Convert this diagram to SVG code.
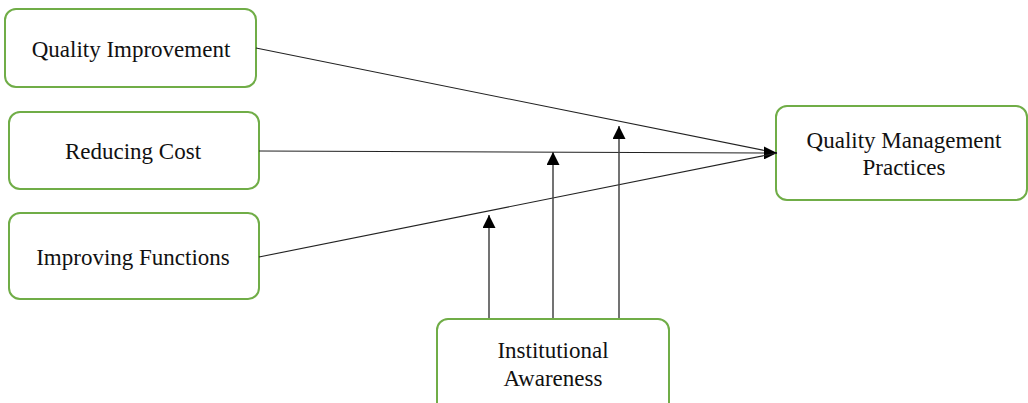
<svg xmlns="http://www.w3.org/2000/svg" width="1028" height="403" viewBox="0 0 1028 403">
<style>
.box{fill:#fff;stroke:#70ad47;stroke-width:2}
.t{font-family:"Liberation Serif","Times New Roman",serif;font-size:23px;fill:#111;text-anchor:middle}
.c{stroke:#222;stroke-width:1.1;fill:none}
.v{stroke:#444;stroke-width:1.5;fill:none}
</style>
<defs>
<marker id="ah" markerWidth="13" markerHeight="13" refX="13" refY="6.5" orient="auto" markerUnits="userSpaceOnUse">
<path d="M0,0 L13,6.5 L0,13 Z" fill="#000"/>
</marker>
</defs>
<g id="n-qi"><rect class="box" x="5" y="9" width="251" height="78" rx="11"/><text class="t" x="131" y="57">Quality Improvement</text></g>
<g id="n-rc"><rect class="box" x="9" y="112" width="250" height="77" rx="11"/><text class="t" x="133" y="159">Reducing Cost</text></g>
<g id="n-if"><rect class="box" x="9" y="213" width="250" height="86" rx="11"/><text class="t" x="133" y="265">Improving Functions</text></g>
<g id="n-qmp"><rect class="box" x="776" y="106" width="251" height="94" rx="11"/><text class="t" x="904" y="148">Quality Management</text><text class="t" x="904" y="175">Practices</text></g>
<g id="n-ia"><rect class="box" x="437" y="319" width="232" height="95" rx="11"/><text class="t" x="553" y="358">Institutional</text><text class="t" x="553" y="386">Awareness</text></g>
<g id="connectors">
<line class="c" x1="256" y1="48" x2="777" y2="153"/>
<line class="c" x1="259" y1="151" x2="777" y2="153" marker-end="url(#ah)"/>
<line class="c" x1="259" y1="257" x2="777" y2="153"/>
<line class="v" x1="489" y1="318" x2="489" y2="215" marker-end="url(#ah)"/>
<line class="v" x1="553" y1="318" x2="553" y2="152" marker-end="url(#ah)"/>
<line class="v" x1="619" y1="318" x2="619" y2="126" marker-end="url(#ah)"/>
</g>
</svg>
